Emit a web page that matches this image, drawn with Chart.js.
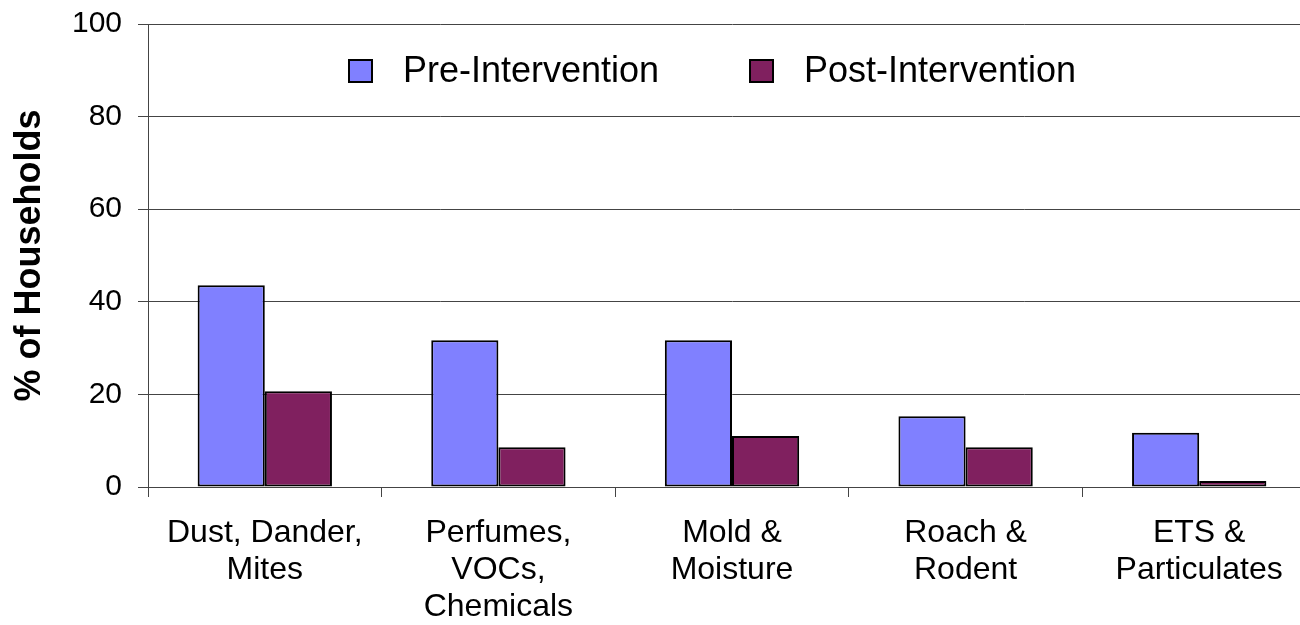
<!DOCTYPE html>
<html>
<head>
<meta charset="utf-8">
<script src="https://cdn.jsdelivr.net/npm/chart.js@4.4.1/dist/chart.umd.min.js"></script>
<style>
  html, body { margin: 0; padding: 0; background: #fff; overflow: hidden; }
  #wrap { position: relative; width: 1316px; height: 625px; }
</style>
</head>
<body>
<div id="wrap"><canvas id="myChart"></canvas></div>
<script>
const categories = [
  ["Dust, Dander,", "Mites"],
  ["Perfumes,", "VOCs,", "Chemicals"],
  ["Mold &", "Moisture"],
  ["Roach &", "Rodent"],
  ["ETS &", "Particulates"]
];
const preValues = [43.6, 31.7, 31.7, 15.3, 11.7];
const postValues = [20.7, 8.6, 11.0, 8.6, 1.3];
const yTicks = [0, 20, 40, 60, 80, 100];

const FONT = "'Liberation Sans', Arial, sans-serif";

// legend drawn inside the plot, like the original
const legendInside = {
  id: "legendInside",
  afterDraw(chart) {
    const ctx = chart.ctx;
    const items = [
      { x: 349, ds: chart.data.datasets[0] },
      { x: 750, ds: chart.data.datasets[1] }
    ];
    ctx.save();
    ctx.font = "36px " + FONT;
    ctx.textBaseline = "middle";
    items.forEach((it) => {
      ctx.fillStyle = it.ds.backgroundColor;
      ctx.fillRect(it.x, 60, 23, 22);
      ctx.lineWidth = 2;
      ctx.strokeStyle = "#000";
      ctx.strokeRect(it.x, 60, 23, 22);
      ctx.fillStyle = "#000";
      ctx.fillText(it.ds.label, it.x + 54, 72);
    });
    ctx.restore();
  }
};

const ctx = document.getElementById("myChart").getContext("2d");
const myChart = new Chart(ctx, {
  type: "bar",
  data: {
    labels: categories,
    datasets: [
      {
        label: "Pre-Intervention",
        data: preValues,
        backgroundColor: "#8080FF",
        borderColor: "#000",
        borderWidth: 2,
        borderSkipped: false,
      },
      {
        label: "Post-Intervention",
        data: postValues,
        backgroundColor: "#80205F",
        borderColor: "#000",
        borderWidth: 2,
        borderSkipped: false,
      },
    ],
  },
  options: {
    responsive: true,
    maintainAspectRatio: false,
    animation: false,
    categoryPercentage: 0.575,
    barPercentage: 1.0,
    layout: { padding: { top: 24, right: 0, left: 0, bottom: 0 } },
    plugins: {
      legend: { display: false },
      tooltip: { enabled: false },
    },
    scales: {
      x: {
        offset: true,
        grid: {
          offset: true,
          drawOnChartArea: false,
          drawTicks: true,
          tickLength: 10,
          color: "#444",
        },
        border: { color: "#444", width: 1 },
        ticks: {
          color: "#000",
          font: { family: FONT, size: 32, lineHeight: 1.15 },
          padding: 18,
          maxRotation: 0,
          autoSkip: false,
        },
        afterFit: (scale) => { scale.height = 138; },
      },
      y: {
        min: 0,
        max: 100,
        afterBuildTicks: (scale) => {
          scale.ticks = yTicks.map((v) => ({ value: v }));
        },
        grid: {
          color: "#444",
          tickLength: 10,
        },
        border: { color: "#444", width: 1 },
        ticks: {
          color: "#000",
          font: { family: FONT, size: 30 },
          padding: 16,
        },
        title: {
          display: true,
          text: "% of Households",
          color: "#000",
          font: { family: FONT, size: 36, weight: "bold" },
          padding: { top: 8, bottom: 0 },
        },
        afterFit: (scale) => {
          scale.width = 148;
          scale.paddingTop = 0;
          scale.paddingBottom = 0;
        },
      },
    },
  },
  plugins: [legendInside],
});
</script>
</body>
</html>
